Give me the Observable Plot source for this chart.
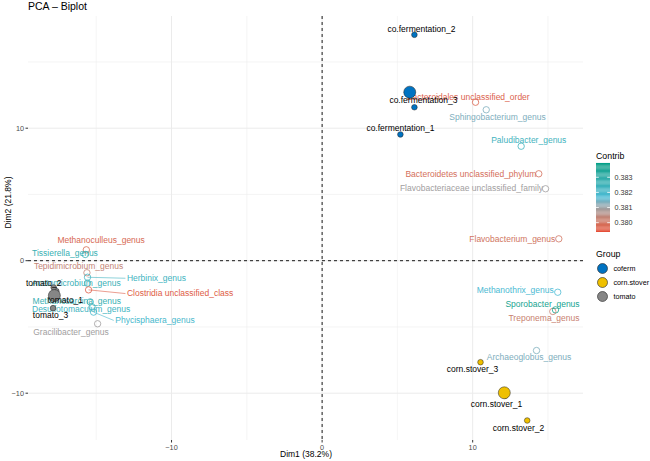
<!DOCTYPE html>
<html><head><meta charset="utf-8">
<script src="https://cdn.jsdelivr.net/npm/d3@7"></script>
<script src="https://cdn.jsdelivr.net/npm/@observablehq/plot@0.6"></script>
<style>
body{margin:0;background:#fff;font-family:"Liberation Sans",Arial,sans-serif;}
#wrap{position:relative;width:650px;height:461px;overflow:hidden;background:#fff;}
#title{position:absolute;left:28px;top:0;font-size:10.5px;line-height:12px;color:#000;}
#main{position:absolute;left:0;top:16px;}
.lt{position:absolute;left:596px;font-size:8.8px;line-height:12px;color:#000;}
#cbar{position:absolute;left:596px;top:159px;}
#glegend{position:absolute;left:596px;top:260px;}
svg{overflow:visible;}
</style></head><body>
<div id="wrap">
<div id="title">PCA – Biplot</div>
<div id="main"></div>
<div class="lt" style="top:150px">Contrib</div>
<div id="cbar"></div>
<div class="lt" style="top:248px">Group</div>
<div id="glegend"></div>
</div>
<script>
// ---- data ----
const groups = ["coferm", "corn.stover", "tomato"];
const groupColors = ["#0073C2", "#EFC000", "#868686"];

const indNames = ["co.fermentation_1","co.fermentation_2","co.fermentation_3","corn.stover_1","corn.stover_2","corn.stover_3","tomato_1","tomato_2","tomato_3"];
const indGroup = ["coferm","coferm","coferm","corn.stover","corn.stover","corn.stover","tomato","tomato","tomato"];
const indDim1 = [5.20, 6.13, 6.13, 12.16, 13.62, 10.52, -17.65, -17.83, -17.87];
const indDim2 = [9.53, 17.05, 11.58, -10.19, -12.06, -7.66, -2.30, -2.02, -3.58];

const varNames = ["Bacteroidales unclassified_order","Sphingobacterium_genus","Paludibacter_genus","Bacteroidetes unclassified_phylum","Flavobacteriaceae unclassified_family","Flavobacterium_genus","Methanothrix_genus","Sporobacter_genus","Treponema_genus","Archaeoglobus_genus","Methanoculleus_genus","Tissierella_genus","Tepidimicrobium_genus","Herbinix_genus","Acetomicrobium_genus","Clostridia unclassified_class","Methanosarcina_genus","Desulfotomaculum_genus","Phycisphaera_genus","Gracilibacter_genus"];
const varDim1 = [10.19, 10.90, 13.22, 14.39, 14.84, 15.72, 15.65, 15.50, 15.32, 14.24, -15.66, -15.73, -15.62, -15.58, -15.58, -15.51, -15.40, -15.28, -15.18, -14.91];
const varDim2 = [11.96, 11.39, 8.64, 6.56, 5.43, 1.65, -2.38, -3.71, -3.83, -6.78, 0.82, 0.47, -0.91, -1.25, -1.70, -2.20, -3.11, -3.49, -3.88, -4.76];
const varContrib = [0.3797, 0.3813, 0.3823, 0.3799, 0.3809, 0.3800, 0.3817, 0.3836, 0.3802, 0.3813, 0.3798, 0.3826, 0.3803, 0.3822, 0.3825, 0.3796, 0.3826, 0.3822, 0.3819, 0.3809];

const xTicks = [-10, 0, 10];
const yTicks = [-10, 0, 10];
const xMinor = [-15, -5, 5, 15];
const yMinor = [-5, 5, 15];
const contribTicks = [0.380, 0.381, 0.382, 0.383];
const contribDomain = [0.37935, 0.38163, 0.38391];
const contribRange = ["#E64B35", "#4DBBD5", "#00A087"];

// ---- layout / label nudges (px) ----
const W = 650, H = 445, mL = 28, mR = 67, mT = 0, mB = 21;
const xDomain = [-19.5, 17.36], yDomain = [-13.57, 18.43];
const kx = (W - mL - mR) / (xDomain[1] - xDomain[0]);
const ky = (H - mT - mB) / (yDomain[1] - yDomain[0]);
const nudge = {
  "co.fermentation_1": [0, -6, "middle"], "co.fermentation_2": [7, -5.3, "middle"], "co.fermentation_3": [9, -6.7, "middle"],
  "corn.stover_1": [-8.7, 8.3, "middle"], "corn.stover_2": [-8.7, 7.3, "middle"], "corn.stover_3": [-8, 7, "middle"],
  "tomato_1": [9, 9.3, "middle"], "tomato_2": [-10, -4.3, "middle"], "tomato_3": [-2.5, 7.4, "middle"],
  "Bacteroidales unclassified_order": [-7.3, -5, "middle"], "Sphingobacterium_genus": [11.3, 7.4, "middle"],
  "Paludibacter_genus": [7.6, -5.7, "middle"], "Bacteroidetes unclassified_phylum": [-2.5, 0, "end"],
  "Flavobacteriaceae unclassified_family": [-2.5, 0, "end"], "Flavobacterium_genus": [-3.5, 0, "end"],
  "Methanothrix_genus": [-4, -1.7, "end"], "Sporobacter_genus": [-13, -5.3, "middle"], "Treponema_genus": [-8.8, 6.7, "middle"],
  "Archaeoglobus_genus": [-7.5, 7, "middle"], "Methanoculleus_genus": [14.8, -9.3, "middle"], "Tissierella_genus": [-20.3, -1.7, "middle"],
  "Tepidimicrobium_genus": [-8.4, -6.3, "middle"], "Herbinix_genus": [39.4, 1, "start"], "Acetomicrobium_genus": [-11.3, 0, "middle"],
  "Clostridia unclassified_class": [38.4, 3.7, "start"], "Methanosarcina_genus": [-13.5, -0.7, "middle"],
  "Desulfotomaculum_genus": [-10.9, 2.6, "middle"], "Phycisphaera_genus": [21.7, 8.3, "start"], "Gracilibacter_genus": [-26.6, 8.4, "middle"]
};

// ---- tables ----
const inds = indNames.map((n, i) => ({name: n, group: indGroup[i], x: indDim1[i], y: indDim2[i]}));
const means = groups.map(g => {
  const s = inds.filter(d => d.group === g);
  return {group: g, x: d3.mean(s, d => d.x), y: d3.mean(s, d => d.y)};
});
const vars = varNames.map((n, i) => ({name: n, x: varDim1[i], y: varDim2[i], contrib: varContrib[i]}));
function withLabel(d) {
  const [dx, dy, a] = nudge[d.name];
  return {...d, lx: d.x + dx / kx, ly: d.y - dy / ky, anchor: a, lx0: d.x + (dx - 1.5) / kx};
}
const indL = inds.map(withLabel);
const varL = vars.map(withLabel);
const colorOpt = {type: "linear", domain: contribDomain, range: contribRange, interpolate: "lab"};

const marks = [
  Plot.ruleX(xMinor, {stroke: "#EFEFEF", strokeWidth: 0.6}),
  Plot.ruleY(yMinor, {stroke: "#EFEFEF", strokeWidth: 0.6}),
  Plot.ruleX(xTicks, {stroke: "#EBEBEB", strokeWidth: 1}),
  Plot.ruleY(yTicks, {stroke: "#EBEBEB", strokeWidth: 1}),
  Plot.ruleX([0], {stroke: "#000", strokeWidth: 0.9, strokeDasharray: "3,3"}),
  Plot.ruleY([0], {stroke: "#000", strokeWidth: 0.9, strokeDasharray: "3,3"}),
  Plot.axisX({ticks: xTicks, tickSize: 2.5, tickPadding: 1.5, fontSize: 7.3, fill: "#4D4D4D", stroke: "#333", label: null}),
  Plot.axisY({ticks: yTicks, tickSize: 2.5, tickPadding: 2, fontSize: 7.3, fill: "#4D4D4D", stroke: "#333", label: null}),
  Plot.text(["Dim1 (38.2%)"], {frameAnchor: "bottom", dy: 16, fontSize: 8.5, fill: "#000"}),
  Plot.text(["Dim2 (21.8%)"], {frameAnchor: "left", dx: -20, rotate: -90, fontSize: 8.5, fill: "#000"}),
  // connectors
  Plot.link(varL.filter(d => d.anchor === "start"), {x1: "x", y1: "y", x2: "lx0", y2: "ly", stroke: "contrib", strokeWidth: 0.6}),
  // variables
  Plot.dot(vars, {x: "x", y: "y", r: 3.2, stroke: "contrib", fill: "none", strokeWidth: 0.8}),
  ...["start", "middle", "end"].map(a => Plot.text(varL.filter(d => d.anchor === a), {x: "lx", y: "ly", text: "name", fill: "contrib", textAnchor: a, fontSize: 8.5})),
  // individuals
  ...groups.map((g, i) => Plot.dot(inds.filter(d => d.group === g), {x: "x", y: "y", r: 2.8, fill: groupColors[i], stroke: "#222", strokeWidth: 0.5})),
  ...groups.map((g, i) => Plot.dot(means.filter(d => d.group === g), {x: "x", y: "y", r: 6, fill: groupColors[i], stroke: "#222", strokeWidth: 0.5})),
  Plot.text(indL, {x: "lx", y: "ly", text: "name", fill: "#000", fontSize: 8.5})
];

const chart = Plot.plot({
  width: W, height: H, marginLeft: mL, marginRight: mR, marginTop: mT, marginBottom: mB,
  x: {domain: xDomain}, y: {domain: yDomain},
  color: colorOpt,
  style: {fontFamily: "Liberation Sans, Arial, sans-serif", background: "#fff"},
  marks
});
document.getElementById("main").appendChild(chart);

// ---- colorbar legend ----
const nSteps = 60;
const step = (contribDomain[2] - contribDomain[0]) / nSteps;
const steps = d3.range(nSteps).map(i => contribDomain[0] + i * step);
const cbar = Plot.plot({
  width: 50, height: 77, marginLeft: 0, marginRight: 36, marginTop: 4, marginBottom: 4,
  x: {domain: [0, 1], axis: null},
  y: {domain: [contribDomain[0], contribDomain[2]]},
  color: colorOpt,
  style: {fontFamily: "Liberation Sans, Arial, sans-serif"},
  marks: [
    Plot.rect(steps, {x1: () => 0, x2: () => 1, y1: d => d, y2: d => d + step * 1.05, fill: d => d + step / 2}),
    Plot.ruleY(contribTicks, {x1: () => 0, x2: () => 0.2, stroke: "#fff", strokeWidth: 0.8}),
    Plot.ruleY(contribTicks, {x1: () => 0.8, x2: () => 1, stroke: "#fff", strokeWidth: 0.8}),
    Plot.axisY({anchor: "right", ticks: contribTicks, tickFormat: ".3f", tickSize: 0, tickPadding: 4, fontSize: 7.2, fill: "#333", label: null})
  ]
});
document.getElementById("cbar").appendChild(cbar);

// ---- group legend ----
const gl = Plot.plot({
  width: 54, height: 44, marginLeft: 6, marginRight: 0, marginTop: 8, marginBottom: 8,
  x: {domain: [0, 1], axis: null},
  y: {domain: groups, type: "point", padding: 0, axis: null},
  style: {fontFamily: "Liberation Sans, Arial, sans-serif", overflow: "visible"},
  marks: [
    ...groups.map((g, i) => Plot.dot([g], {x: () => 0, y: d => d, r: 5, fill: groupColors[i], stroke: "#222", strokeWidth: 0.6})),
    Plot.text(groups, {x: () => 0, y: d => d, text: d => d, dx: 11, textAnchor: "start", fontSize: 7.2, fill: "#000"})
  ]
});
document.getElementById("glegend").appendChild(gl);
</script>
</body></html>
